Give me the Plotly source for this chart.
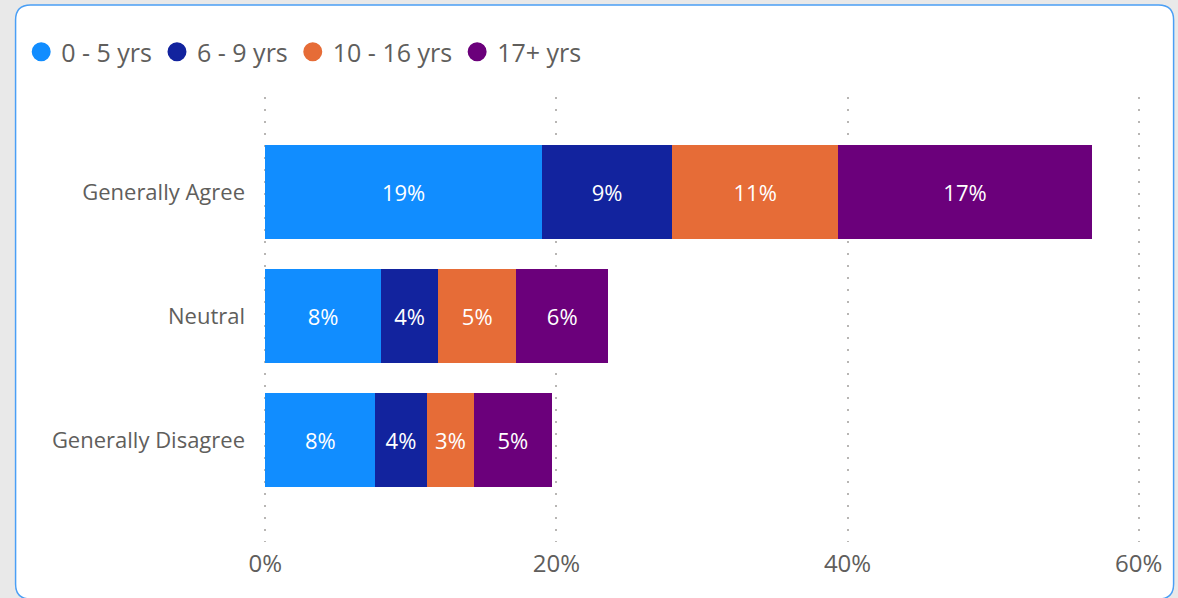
import plotly.graph_objects as go

# ---- data ----
categories = ["Generally Agree", "Neutral", "Generally Disagree"]
series_names = ["0 - 5 yrs", "6 - 9 yrs", "10 - 16 yrs", "17+ yrs"]
vals_0_5 = [19.0, 7.92, 7.55]
vals_6_9 = [8.96, 3.97, 3.53]
vals_10_16 = [11.39, 5.33, 3.27]
vals_17p = [17.44, 6.35, 5.31]
x_tick_vals = [0, 20, 40, 60]
x_tick_labels = ["0%", "20%", "40%", "60%"]

# ---- styles ----
colors = ["#118DFF", "#12239E", "#E66C37", "#6B007B"]
FONT = "Segoe UI, Open Sans, sans-serif"
GRAY = "#605E5C"
W, H = 1178, 598
X0_PX, X60_PX = 265, 1139          # pixel positions of 0% and 60%
EXT = 0.3                          # small range extension so edge gridlines show
scale = (X60_PX - X0_PX) / 60.0
L = X0_PX - EXT * scale
R = (W - X60_PX) - EXT * scale
T, B = 97, 56

series = [vals_0_5, vals_6_9, vals_10_16, vals_17p]

fig = go.Figure()
for name, vals, col in zip(series_names, series, colors):
    fig.add_trace(go.Bar(
        y=categories, x=vals, name=name, orientation="h",
        marker=dict(color=col, line=dict(width=0)),
        texttemplate="%{x:.0f}%", textposition="inside",
        insidetextanchor="middle", textangle=0,
        textfont=dict(family=FONT, size=22, color="white"),
        showlegend=False, hoverinfo="x+name",
    ))
for name, col in zip(series_names, colors):
    fig.add_trace(go.Scatter(
        x=[None], y=[None], mode="markers", name=name,
        marker=dict(color=col, size=16, symbol="circle",
                    line=dict(color=col, width=3)),
        showlegend=True,
    ))

# card background (pixel -> paper)
pw, ph = W - L - R, H - T - B
def px(xp):
    return (xp - L) / pw
def py(yp):
    return (H - B - yp) / ph

cx0, cx1, cy0, cy1, rad = 15, 1174, 5, 599, 15
path = (f"M {px(cx0+rad)},{py(cy0)} L {px(cx1-rad)},{py(cy0)} "
        f"Q {px(cx1)},{py(cy0)} {px(cx1)},{py(cy0+rad)} "
        f"L {px(cx1)},{py(cy1-rad)} Q {px(cx1)},{py(cy1)} {px(cx1-rad)},{py(cy1)} "
        f"L {px(cx0+rad)},{py(cy1)} Q {px(cx0)},{py(cy1)} {px(cx0)},{py(cy1-rad)} "
        f"L {px(cx0)},{py(cy0+rad)} Q {px(cx0)},{py(cy0)} {px(cx0+rad)},{py(cy0)} Z")

fig.add_shape(type="path", path=path, xref="paper", yref="paper",
              fillcolor="white", line=dict(color="#4A9FF5", width=1.5),
              layer="below")

fig.update_layout(
    width=W, height=H, autosize=False,
    margin=dict(l=L, r=R, t=T, b=B, pad=0),
    paper_bgcolor="#E9E9E9", plot_bgcolor="rgba(0,0,0,0)",
    barmode="stack", bargap=0.242,
    font=dict(family=FONT, color=GRAY),
    legend=dict(orientation="h", xref="container", yref="container",
                traceorder="normal",
                x=0.018, y=1 - 52 / H, xanchor="left", yanchor="middle",
                font=dict(family=FONT, size=25, color=GRAY),
                bgcolor="rgba(0,0,0,0)", itemclick=False, itemdoubleclick=False),
    xaxis=dict(range=[-EXT, 60 + EXT], tickvals=x_tick_vals, ticktext=x_tick_labels,
               showgrid=True, gridcolor="#B8B6B4", gridwidth=1.5,
               griddash="1.5px,10.5px",
               zeroline=False, showline=False, ticks="",
               tickfont=dict(family=FONT, size=24, color=GRAY),
               ticklabelstandoff=5, fixedrange=True),
    yaxis=dict(categoryorder="array", categoryarray=categories,
               range=[2.823, -0.766], showgrid=False, zeroline=False,
               showline=False, ticks="",
               tickfont=dict(family=FONT, size=22, color=GRAY),
               ticklabelstandoff=15, fixedrange=True),
)

fig.write_html(
    "out.html",
    config={"displayModeBar": False},
    post_script="document.body.style.margin='0';document.body.style.overflow='hidden';",
)
